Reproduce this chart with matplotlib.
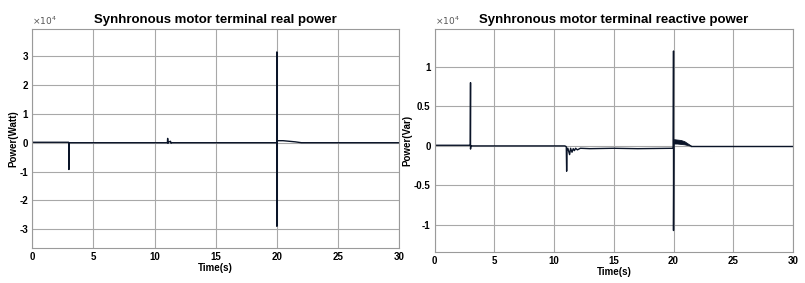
import matplotlib.pyplot as plt
from matplotlib.ticker import FuncFormatter

plt.rcParams['font.family'] = ['Liberation Sans', 'DejaVu Sans']
plt.rcParams['axes.unicode_minus'] = False

# Real power (W) at the motor terminal
t_real = [0, 2.98, 3.0, 3.0, 3.02, 10.9, 11.05, 11.07, 11.1, 11.15, 11.3, 11.35,
          11.4, 12, 19.98, 20.0, 20.0, 20.02, 20.05, 20.5, 21, 21.5, 22, 30]
p_real = [150, 150, 0, -9300, 0, 0, 0, 1500, -200, 200, 500, -200,
          0, 0, 0, 31500, -29000, 800, 700, 700, 500, 300, 0, 0]

# Reactive power (Var) at the motor terminal
t_react = [0, 2.98, 3.0, 3.0, 3.03, 3.1, 10.9, 11.02, 11.05, 11.08, 11.15, 11.3,
           11.38, 11.5, 11.6, 11.7, 11.8, 11.95, 12.2, 13, 15, 17, 19.98,
           20.0, 20.0, 20.03]
q_react = [80, 80, 8000, -400, 0, 0, 0, -100, -3200, -300, -300, -1100,
           -300, -800, -350, -600, -300, -500, -300, -350, -300, -350, -300,
           12000, -10700, 400]
# oscillating band right after the 20 s disturbance
t_band = [20.03, 20.3, 20.6, 20.9, 21.2, 21.5]
q_band_hi = [850, 800, 750, 600, 300, 0]
q_band_lo = [300, 300, 250, 200, 100, 0]
t_tail = [21.5, 25, 30]
q_tail = [0, 0, 0]

line_color = '#0a1428'
x_ticks = [0, 5, 10, 15, 20, 25, 30]

fig = plt.figure(figsize=(8.05, 2.83), dpi=100)
ax1 = fig.add_axes([0.040, 0.124, 0.456, 0.774])
ax2 = fig.add_axes([0.540, 0.110, 0.445, 0.788])

fmt = FuncFormatter(lambda v, pos: f'{v / 1e4:g}')

ax1.plot(t_real, p_real, color=line_color, linewidth=1.0)
ax1.set_ylim(-3.65e4, 3.95e4)
ax1.set_yticks([-3e4, -2e4, -1e4, 0, 1e4, 2e4, 3e4])
ax1.set_title('Synhronous motor terminal real power', fontsize=9.5, fontweight='bold', pad=4)
ax1.set_ylabel('Power(Watt)', fontsize=7, fontweight='bold', labelpad=1)

ax2.plot(t_react, q_react, color=line_color, linewidth=1.0)
ax2.fill_between(t_band, q_band_lo, q_band_hi, color=line_color, linewidth=0.6)
ax2.plot(t_tail, q_tail, color=line_color, linewidth=1.0)
ax2.set_ylim(-1.34e4, 1.48e4)
ax2.set_yticks([-1e4, -0.5e4, 0, 0.5e4, 1e4])
ax2.set_title('Synhronous motor terminal reactive power', fontsize=9.5, fontweight='bold', pad=4)
ax2.set_ylabel('Power(Var)', fontsize=7, fontweight='bold', labelpad=1)

for ax in (ax1, ax2):
    ax.set_xlim(0, 30)
    ax.set_xticks(x_ticks)
    ax.yaxis.set_major_formatter(fmt)
    ax.grid(True, color='#a8a8a8', linewidth=0.8)
    ax.set_axisbelow(True)
    ax.tick_params(length=0, labelsize=7, pad=3)
    for lbl in ax.get_xticklabels() + ax.get_yticklabels():
        lbl.set_fontweight('bold')
    for s in ax.spines.values():
        s.set_color('#9a9a9a')
        s.set_linewidth(0.8)
    ax.set_xlabel('Time(s)', fontsize=7, fontweight='bold', labelpad=1)
    ax.text(0.0, 1.01, r'$\times10^4$', transform=ax.transAxes, fontsize=6.5,
            color='#555555', ha='left', va='bottom')

fig.savefig('out.png', dpi=100)
